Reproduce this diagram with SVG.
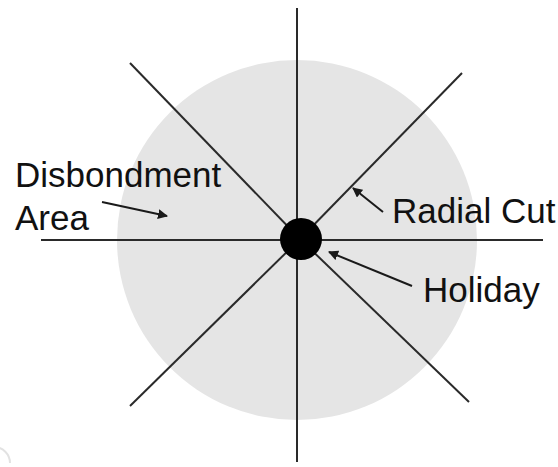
<svg xmlns="http://www.w3.org/2000/svg" width="558" height="467" viewBox="0 0 558 467">
<style>
.cut{stroke:#2a2a2a;stroke-width:2;fill:none;stroke-linecap:butt}
.ptr{stroke:#1a1a1a;stroke-width:2;fill:none;marker-end:url(#ah)}
.lbl{font-family:"Liberation Sans",Arial,sans-serif;font-size:35px;fill:#111}
</style>
<defs>
<marker id="ah" viewBox="0 0 10 10" refX="9" refY="5" markerWidth="5" markerHeight="5" orient="auto" markerUnits="strokeWidth">
<path d="M0,0 L10,5 L0,10 Z" fill="#1a1a1a"/>
</marker>
</defs>
<rect width="558" height="467" fill="#ffffff"/>
<g id="disbondment-area">
<circle cx="297" cy="240" r="180" fill="#e5e5e5"/>
</g>
<path d="M-6,447 A16,16 0 0 1 10,463" fill="none" stroke="#e2e2e2" stroke-width="2"/>
<g id="connectors">
<line class="cut" x1="297" y1="8" x2="297" y2="462"/>
<line class="cut" x1="41" y1="240" x2="543" y2="240"/>
<line class="cut" x1="130" y1="63" x2="300" y2="239"/>
<line class="cut" x1="462" y1="73" x2="300" y2="239"/>
<line class="cut" x1="130" y1="406" x2="300" y2="239"/>
<line class="cut" x1="469" y1="402" x2="300" y2="239"/>
<line class="ptr" x1="102" y1="202" x2="167" y2="216"/>
<line class="ptr" x1="383" y1="212" x2="353" y2="188"/>
<line class="ptr" x1="412" y1="286" x2="329" y2="252"/>
</g>
<g id="holiday">
<circle cx="301" cy="239" r="21" fill="#000"/>
</g>
<g id="labels">
<text class="lbl" x="15" y="187">Disbondment</text>
<text class="lbl" x="15" y="230">Area</text>
<text class="lbl" x="392" y="223">Radial Cut</text>
<text class="lbl" x="423" y="302">Holiday</text>
</g>
</svg>
